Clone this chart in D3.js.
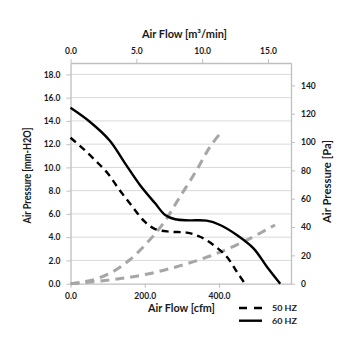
<!DOCTYPE html>
<html><head><meta charset="utf-8">
<script src="https://cdn.jsdelivr.net/npm/d3@7"></script>
<style>body{margin:0;background:#fff}svg{display:block}text{font-family:Lato,"Open Sans",sans-serif;font-weight:bold;fill:#1a1a1a}</style>
</head><body>
<svg id="c" width="355" height="355"></svg>
<script>
// data: x in cfm, y in mm-H2O
const hz60X = [0, 52, 106, 147, 187, 228, 255, 282, 320, 367, 403, 448, 493, 529, 565];
const hz60Y = [15.13, 13.93, 12.3, 10.35, 8.49, 6.91, 5.91, 5.54, 5.45, 5.42, 5.05, 4.19, 3.04, 1.46, 0];
const hz50X = [0, 33, 66, 100, 132, 165, 200, 228, 268, 313, 349, 385, 421, 448, 470];
const hz50Y = [12.55, 11.64, 10.63, 9.5, 8.06, 6.7, 5.33, 4.7, 4.47, 4.39, 4.04, 3.33, 2.32, 1.03, 0];
const sysAX = [0, 60, 114, 159, 205, 250, 295, 340, 376, 407];
const sysAY = [0, 0.32, 1.03, 2.04, 3.47, 5.19, 7.48, 9.78, 11.78, 13.07];
const sysBX = [0, 105, 195, 286, 376, 466, 551];
const sysBY = [0, 0.32, 0.75, 1.46, 2.38, 3.61, 5.05];
const cfmTicks = [0, 200, 400];
const m3Ticks = [0, 5, 10, 15];
const mmTicks = [0, 2, 4, 6, 8, 10, 12, 14, 16, 18];
const paTicks = [0, 20, 40, 60, 80, 100, 120, 140];
const seriesNames = ["50 HZ", "60 HZ"];

const L = 70.5, R = 291, T = 63, B = 283.7;
const svg = d3.select("#c");
const x = d3.scaleLinear().domain([0, 594]).range([L, R]);
const xTop = d3.scaleLinear().domain([0, 16.75]).range([L, R]);
const y = d3.scaleLinear().domain([0, 18.98]).range([B, T]);
const yR = d3.scaleLinear().domain([0, 155.8]).range([B, T]);

// gridlines
svg.append("g").selectAll("line").data(mmTicks.filter(d => d > 0)).join("line")
  .attr("x1", L).attr("x2", R).attr("y1", d => y(d)).attr("y2", d => y(d))
  .attr("stroke", "#d9d9d9").attr("stroke-width", 1);

function styleAxis(g) {
  g.select(".domain").attr("stroke", "#bfbfbf").attr("stroke-width", 1.3);
  g.selectAll(".tick line").attr("stroke", "#bfbfbf");
  g.selectAll(".tick text").style("font-size", "8.5px").attr("fill", "#1a1a1a");
}
svg.append("g").attr("transform", `translate(0,${B})`)
  .call(d3.axisBottom(x).tickValues(cfmTicks).tickFormat(d3.format(".1f")).tickSize(4).tickSizeOuter(0).tickPadding(5))
  .call(styleAxis);
svg.append("g").attr("transform", `translate(0,${T})`)
  .call(d3.axisTop(xTop).tickValues(m3Ticks).tickFormat(d3.format(".1f")).tickSize(4).tickSizeOuter(0).tickPadding(5))
  .call(styleAxis);
svg.append("g").attr("transform", `translate(${L},0)`)
  .call(d3.axisLeft(y).tickValues(mmTicks).tickFormat(d3.format(".1f")).tickSize(4).tickSizeOuter(0).tickPadding(6))
  .call(styleAxis);
svg.append("g").attr("transform", `translate(${R},0)`)
  .call(d3.axisRight(yR).tickValues(paTicks).tickFormat(d3.format("d")).tickSize(4).tickSizeOuter(0).tickPadding(6))
  .call(styleAxis);

const line = d3.line().x(d => x(d[0])).y(d => y(d[1])).curve(d3.curveCatmullRom.alpha(0.5));
const zip = (a, b) => a.map((v, i) => [v, b[i]]);

svg.append("path").datum(zip(sysAX, sysAY)).attr("d", line)
  .attr("fill", "none").attr("stroke", "#a6a6a6").attr("stroke-width", 3).attr("stroke-dasharray", "9,6");
svg.append("path").datum(zip(sysBX, sysBY)).attr("d", line)
  .attr("fill", "none").attr("stroke", "#a6a6a6").attr("stroke-width", 3).attr("stroke-dasharray", "9,6");
svg.append("path").datum(zip(hz50X, hz50Y)).attr("d", line)
  .attr("fill", "none").attr("stroke", "#000").attr("stroke-width", 2.4).attr("stroke-dasharray", "7,5");
svg.append("path").datum(zip(hz60X, hz60Y)).attr("d", line)
  .attr("fill", "none").attr("stroke", "#000").attr("stroke-width", 2.4);

// titles
function title(t, tr, len) {
  svg.append("text").attr("transform", tr).attr("text-anchor", "middle").style("font-size", "10.5px")
    .attr("textLength", len).attr("lengthAdjust", "spacingAndGlyphs").text(t);
}
title("Air Flow [cfm]", "translate(181.5,311.5)", 67);
title("Air Flow [m³/min]", "translate(184.5,37.5)", 85);
title("Air Pressure [mm-H2O]", "translate(30.5,175.5) rotate(-90)", 96);
title("Air Pressure [Pa]", "translate(330.5,181.5) rotate(-90)", 83);

// legend
const lg = svg.append("g");
[0, 1].forEach(i => {
  const yy = 308 + i * 12.7;
  lg.append("line").attr("x1", 239).attr("x2", 262).attr("y1", yy).attr("y2", yy)
    .attr("stroke", "#000").attr("stroke-width", 2.4).attr("stroke-dasharray", i === 0 ? "8,7" : null);
  lg.append("text").attr("x", 272).attr("y", yy + 3).style("font-size", "8px")
    .attr("textLength", 25).attr("lengthAdjust", "spacingAndGlyphs").text(seriesNames[i]);
});
</script>
</body></html>
